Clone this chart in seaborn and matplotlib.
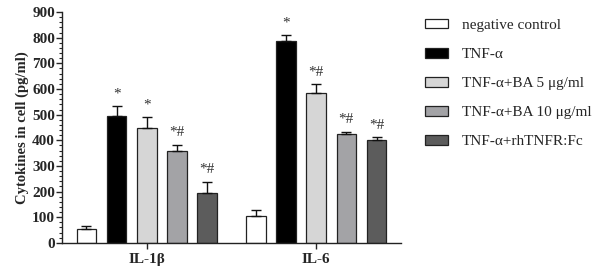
import matplotlib
matplotlib.use('Agg')
import matplotlib.pyplot as plt
from matplotlib.ticker import AutoMinorLocator
import pandas as pd
import seaborn as sns

# data
cytokines = ['IL-1β', 'IL-6']
groups = ['negative control', 'TNF-α', 'TNF-α+BA 5 μg/ml',
          'TNF-α+BA 10 μg/ml', 'TNF-α+rhTNFR:Fc']
il1b_mean = [55, 493, 447, 360, 196]
il1b_err = [10, 40, 43, 22, 42]
il6_mean = [105, 787, 585, 424, 400]
il6_err = [22, 23, 33, 9, 12]
marks_il1b = ['', '*', '*', '*#', '*#']
marks_il6 = ['', '*', '*#', '*#', '*#']

colors = ['#ffffff', '#000000', '#d6d6d6', '#a3a3a6', '#5c5c5c']

rows = []
for i, g in enumerate(groups):
    rows.append({'cytokine': cytokines[0], 'group': g, 'value': il1b_mean[i], 'err': il1b_err[i], 'mark': marks_il1b[i]})
    rows.append({'cytokine': cytokines[1], 'group': g, 'value': il6_mean[i], 'err': il6_err[i], 'mark': marks_il6[i]})
df = pd.DataFrame(rows)

sns.set_style('ticks')
plt.rcParams['font.family'] = ['Liberation Serif', 'DejaVu Serif']

fig = plt.figure(figsize=(6.02, 2.75), dpi=100)
ax = fig.add_axes([0.103, 0.117, 0.563, 0.839])

sns.barplot(data=df, x='cytokine', y='value', hue='group', order=cytokines,
            hue_order=groups, palette=colors, errorbar=None, width=0.89,
            gap=0.35, edgecolor='#222222', linewidth=0.9, ax=ax)

# one-sided error bars and significance marks on top of each bar
for g, cont in zip(groups, ax.containers):
    sub = df[df['group'] == g].set_index('cytokine').loc[cytokines]
    for bar, (val, err, mark) in zip(cont, sub[['value', 'err', 'mark']].values):
        xc = bar.get_x() + bar.get_width() / 2
        ax.errorbar(xc, val, yerr=[[0], [err]], fmt='none', ecolor='#111111',
                    elinewidth=1, capsize=3.5, capthick=1, zorder=1)
        if mark:
            ax.annotate(mark, (xc, val + err), xytext=(0, 4), textcoords='offset points',
                        ha='center', va='bottom', fontsize=11, color='#333333')

ax.set_xlim(-0.5, 1.5)
ax.set_ylim(0, 900)
ax.set_yticks(range(0, 901, 100))
ax.yaxis.set_minor_locator(AutoMinorLocator(5))
ax.tick_params(axis='y', which='major', length=4, width=1, labelsize=11, pad=1)
ax.tick_params(axis='y', which='minor', length=2, width=0.8)
ax.tick_params(axis='x', length=4, width=1, labelsize=11, pad=3)
for lab in ax.get_yticklabels() + ax.get_xticklabels():
    lab.set_fontweight('bold')
ax.set_xlabel('')
ax.set_ylabel('Cytokines in cell (pg/ml)', fontsize=10.5, fontweight='bold', labelpad=2)
for s in ['left', 'bottom']:
    ax.spines[s].set_linewidth(1)
    ax.spines[s].set_color('#222222')
sns.despine(ax=ax)

ax.legend(loc='upper left', bbox_to_anchor=(0.706, 0.93), bbox_transform=fig.transFigure,
          frameon=False, fontsize=11, handlelength=1.5, handleheight=0.55,
          handletextpad=0.9, labelspacing=1.05, borderpad=0, borderaxespad=0)

fig.savefig('out.png', dpi=100)
